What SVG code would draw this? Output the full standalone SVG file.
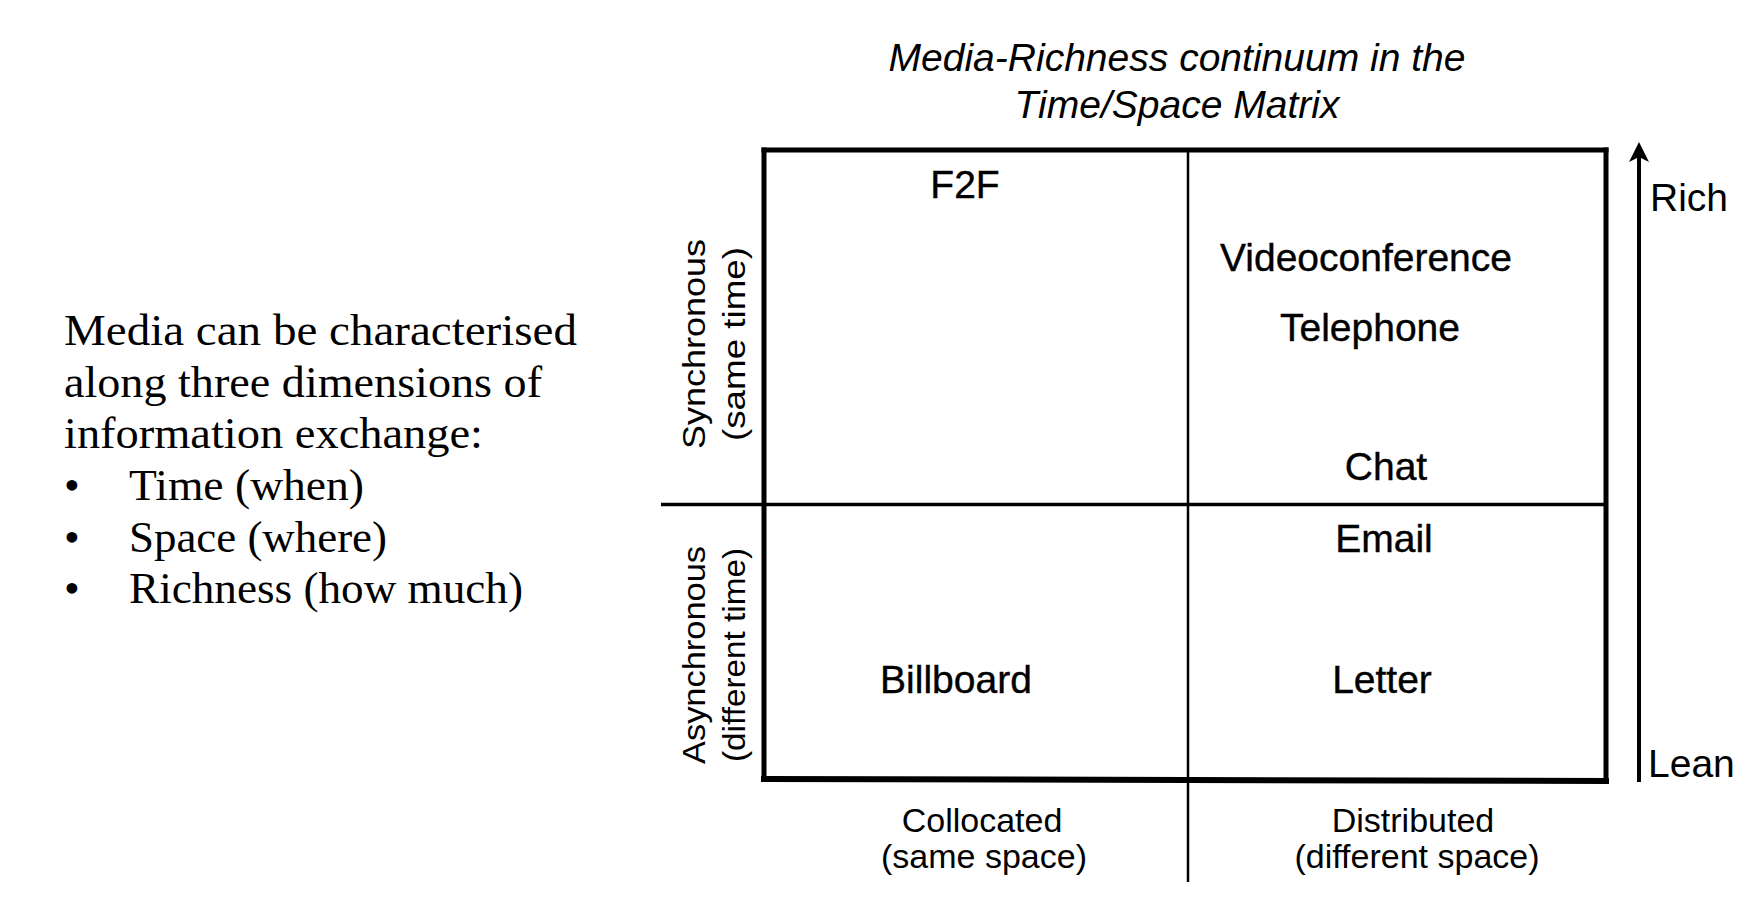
<svg xmlns="http://www.w3.org/2000/svg" width="1758" height="900" viewBox="0 0 1758 900">
  <style>
    .serif { font-family: "Liberation Serif", "Times New Roman", serif; font-size: 45px; fill: #000; }
    .sans { font-family: "Liberation Sans", Arial, sans-serif; fill: #000; }
    .cell { font-size: 39px; text-anchor: middle; stroke: #000; stroke-width: 0.4; }
    .title { font-size: 38px; font-style: italic; text-anchor: middle; }
    .axis { font-size: 34px; text-anchor: middle; }
    .side { font-size: 31px; text-anchor: middle; }
    .scale { font-size: 39px; }
    .line { stroke: #000; fill: none; stroke-linecap: square; }
  </style>
  <defs>
    <marker id="arrowhead" markerUnits="userSpaceOnUse" markerWidth="24" markerHeight="24" viewBox="0 0 24 24" refX="7" refY="12" orient="auto">
      <path d="M22 12 L2 2 L7 12 L2 22 Z" fill="#000"/>
    </marker>
  </defs>

  <!-- introductory paragraph -->
  <g id="intro">
    <text class="serif" x="64" y="345" textLength="513" lengthAdjust="spacingAndGlyphs">Media can be characterised</text>
    <text class="serif" x="64" y="397" textLength="478" lengthAdjust="spacingAndGlyphs">along three dimensions of</text>
    <text class="serif" x="64" y="448" textLength="419" lengthAdjust="spacingAndGlyphs">information exchange:</text>
    <text class="serif" x="64" y="500">•</text>
    <text class="serif" x="129" y="500" textLength="235" lengthAdjust="spacingAndGlyphs">Time (when)</text>
    <text class="serif" x="64" y="552">•</text>
    <text class="serif" x="129" y="552" textLength="258" lengthAdjust="spacingAndGlyphs">Space (where)</text>
    <text class="serif" x="64" y="603">•</text>
    <text class="serif" x="129" y="603" textLength="394" lengthAdjust="spacingAndGlyphs">Richness (how much)</text>
  </g>

  <!-- chart title -->
  <g id="title">
    <text class="sans title" x="1177" y="71" textLength="577" lengthAdjust="spacingAndGlyphs">Media-Richness continuum in the</text>
    <text class="sans title" x="1177" y="118" textLength="325" lengthAdjust="spacingAndGlyphs">Time/Space Matrix</text>
  </g>

  <!-- matrix frame, dividers and richness arrow -->
  <g id="connectors">
    <line class="line" x1="764" y1="150" x2="1606" y2="150" stroke-width="5"/>
    <line class="line" x1="764" y1="150" x2="764" y2="779" stroke-width="5"/>
    <line class="line" x1="1606" y1="150" x2="1606" y2="780" stroke-width="5"/>
    <line class="line" x1="764" y1="779" x2="1606" y2="781" stroke-width="6"/>
    <line x1="661" y1="504.5" x2="1606" y2="504.5" stroke="#000" stroke-width="3.5"/>
    <line x1="1188" y1="150" x2="1188" y2="882" stroke="#000" stroke-width="2.5"/>
    <line x1="1639" y1="782" x2="1639" y2="157" stroke="#000" stroke-width="4" marker-end="url(#arrowhead)"/>
  </g>

  <!-- row labels -->
  <g id="row-sync">
    <text class="sans side" transform="translate(705 344) rotate(-90)" textLength="210" lengthAdjust="spacingAndGlyphs">Synchronous</text>
    <text class="sans side" transform="translate(745 344) rotate(-90)" textLength="194" lengthAdjust="spacingAndGlyphs">(same time)</text>
  </g>
  <g id="row-async">
    <text class="sans side" transform="translate(705 655) rotate(-90)" textLength="218" lengthAdjust="spacingAndGlyphs">Asynchronous</text>
    <text class="sans side" transform="translate(745 655) rotate(-90)" textLength="214" lengthAdjust="spacingAndGlyphs">(different time)</text>
  </g>

  <!-- column labels -->
  <g id="col-collocated">
    <text class="sans axis" x="982" y="832">Collocated</text>
    <text class="sans axis" x="984" y="868">(same space)</text>
  </g>
  <g id="col-distributed">
    <text class="sans axis" x="1413" y="832">Distributed</text>
    <text class="sans axis" x="1417" y="868">(different space)</text>
  </g>

  <!-- media in the matrix -->
  <g id="f2f"><text class="sans cell" x="965" y="198">F2F</text></g>
  <g id="videoconference"><text class="sans cell" x="1366" y="271">Videoconference</text></g>
  <g id="telephone"><text class="sans cell" x="1370" y="341">Telephone</text></g>
  <g id="chat"><text class="sans cell" x="1386" y="480">Chat</text></g>
  <g id="email"><text class="sans cell" x="1384" y="552">Email</text></g>
  <g id="billboard"><text class="sans cell" x="956" y="693">Billboard</text></g>
  <g id="letter"><text class="sans cell" x="1382" y="693">Letter</text></g>

  <!-- richness scale -->
  <g id="rich"><text class="sans scale" x="1650" y="211">Rich</text></g>
  <g id="lean"><text class="sans scale" x="1648" y="777">Lean</text></g>
</svg>
